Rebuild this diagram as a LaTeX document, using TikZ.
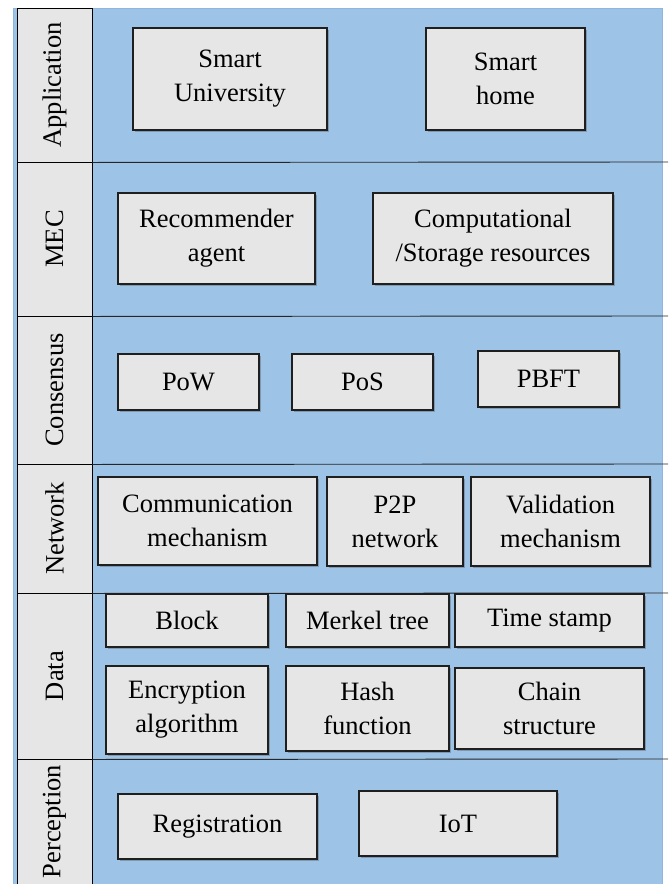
\documentclass[tikz,border=0pt]{standalone}
\usepackage{fontspec}
\setmainfont{Liberation Serif}
\usetikzlibrary{shadows}
\definecolor{layerblue}{HTML}{9DC3E6}
\definecolor{layeredge}{HTML}{8FB6DE}
\definecolor{boxgray}{HTML}{E6E6E6}
\definecolor{boxline}{HTML}{1F1F1F}
\tikzset{
  txt/.style={font=\fontsize{26.5}{34}\selectfont, text=black},
  itembox/.style={txt, draw=boxline, line width=1.1pt, fill=boxgray, inner sep=0pt, align=center,
    drop shadow={shadow xshift=1.6pt, shadow yshift=-1.6pt, opacity=0.35, fill=black!70}},
  labelcell/.style={txt, draw=black, line width=0.9pt, fill=boxgray, inner sep=0pt, rotate=90, anchor=center},
  divider/.style={draw=black!85, line width=0.9pt}
}
\newcommand\itemnode[6]{\node[itembox, minimum width={(#4-#2)*1pt}, minimum height={(#5-#3)*1pt}] (#1) at ({(#2+#4)/2},{(#3+#5)/2}) {#6};}
\newcommand\cellnode[4]{\node[labelcell, minimum width={(#3-#2)*1pt}, minimum height=75pt] (#1) at (54.5,{(#2+#3)/2}) {#4};}
\begin{document}
\begin{tikzpicture}[x=1pt,y=-1pt]
\useasboundingbox (0,0) rectangle (670,884);
% background
\fill[layerblue, draw=layeredge, line width=0.8pt] (13,8) rectangle (662,884.5);
% label column
\cellnode{lapp}{8}{162}{Application}
\cellnode{lmec}{162}{316}{MEC}
\cellnode{lcons}{316}{464}{Consensus}
\cellnode{lnet}{464}{593}{Network}
\cellnode{ldata}{593}{759}{Data}
\cellnode{lperc}{759}{884}{Perception}
% row dividers
\coordinate (d1) at (668,162);
\coordinate (d2) at (668,316);
\coordinate (d3) at (668,464);
\coordinate (d4) at (668,593);
\coordinate (d5) at (668,759);
\draw[divider] (lapp.south west) -- (d1);
\draw[divider] (lmec.south west) -- (d2);
\draw[divider] (lcons.south west) -- (d3);
\draw[divider] (lnet.south west) -- (d4);
\draw[divider] (ldata.south west) -- (d5);
% Application
\itemnode{su}{133}{28}{327}{130}{Smart\\University}
\itemnode{sh}{426}{28}{585}{130}{Smart\\home}
% MEC
\itemnode{ra}{118}{193}{315}{284}{Recommender\\agent}
\itemnode{cs}{373}{193}{613}{284}{Computational\\/Storage resources}
% Consensus
\itemnode{pow}{118}{354}{259}{410}{PoW}
\itemnode{pos}{292}{354}{433}{410}{PoS}
\itemnode{pbft}{478}{351}{619}{407}{PBFT}
% Network
\itemnode{comm}{98}{477}{317}{565}{Communication\\mechanism}
\itemnode{p2p}{327}{477}{463}{566}{P2P\\network}
\itemnode{val}{471}{477}{650}{566}{Validation\\mechanism}
% Data
\itemnode{blk}{106}{594}{268}{647}{Block}
\itemnode{mrk}{286}{594}{449}{647}{Merkel tree}
\itemnode{tms}{455}{594}{644}{647}{Time stamp}
\itemnode{enc}{106}{666}{268}{754}{Encryption\\algorithm}
\itemnode{hsh}{286}{666}{449}{751}{Hash\\function}
\itemnode{chn}{455}{668}{644}{749}{Chain\\structure}
% Perception
\itemnode{reg}{118}{794}{317}{859}{Registration}
\itemnode{iot}{359}{791}{557}{856}{IoT}
\end{tikzpicture}
\end{document}
